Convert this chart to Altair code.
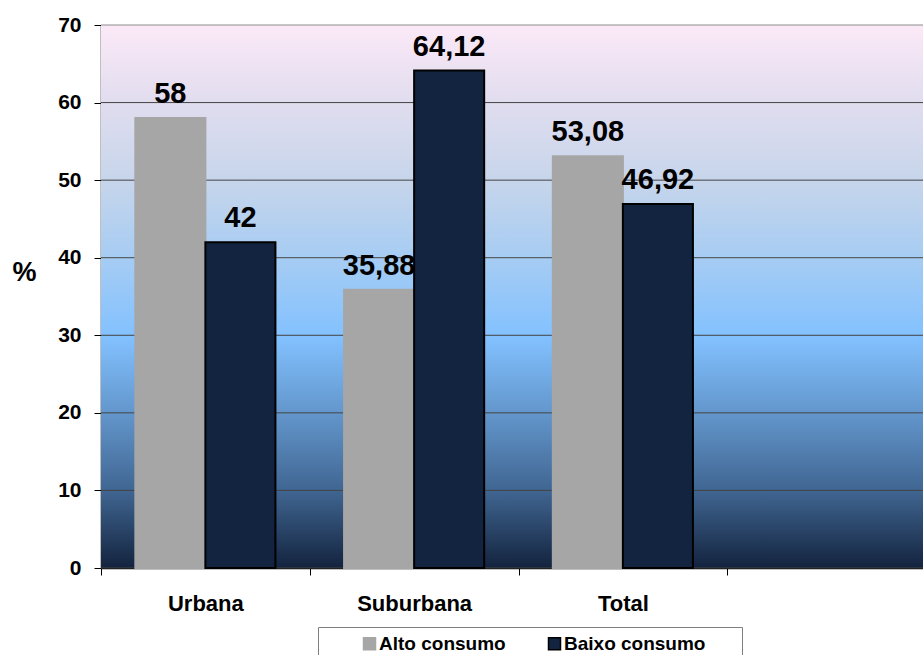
import altair as alt
import pandas as pd

# Share of high / low consumption by area (%)
areas = ["Urbana", "Suburbana", "Total"]
alto = [58, 35.88, 53.08]
baixo = [42, 64.12, 46.92]
series = ["Alto consumo", "Baixo consumo"]
y_ticks = [0, 10, 20, 30, 40, 50, 60, 70]

# one empty slot after the last category, as on the original sheet
x_domain = areas + [""]

rows = []
for a, v1, v2 in zip(areas, alto, baixo):
    for s, v in zip(series, (v1, v2)):
        rows.append({"area": a, "serie": s, "pct": v,
                     "label": f"{v:g}".replace(".", ",")})
df = pd.DataFrame(rows)

W, H = 822, 543
FONT = "Liberation Sans"

fill_colors = ["#a6a6a6", "#12243f"]
stroke_colors = ["#a6a6a6", "#000000"]

legend_cfg = alt.Legend(
    orient="none", legendX=217, legendY=602, direction="horizontal",
    title=" ", titleOrient="right", titlePadding=30, titleFontSize=10,
    fillColor="white", strokeColor="#7f7f7f", padding=7,
    symbolType="square", symbolSize=144, symbolStrokeWidth=1.5,
    symbolOffset=35, labelOffset=0, columnPadding=4,
    labelFont=FONT, labelFontSize=19, labelFontWeight="bold", labelColor="black",
)

x_enc = alt.X(
    "area:N",
    scale=alt.Scale(domain=x_domain, range=[0, 835], paddingInner=0, paddingOuter=0),
    axis=alt.Axis(
        title=None, tickBand="extent", tickSize=7, tickColor="#000000",
        domainColor="#000000", domainWidth=1.5, labelAngle=0,
        labelFont=FONT, labelFontSize=22, labelFontWeight="bold", labelColor="black",
        labelPadding=28, labelBaseline="middle",
    ),
)
xoff_enc = alt.XOffset(
    "serie:N",
    scale=alt.Scale(domain=series, paddingInner=0, paddingOuter=0.49),
)
y_scale = alt.Scale(domain=[0, 70], nice=False)
y_axis = alt.Axis(
    title="%", values=y_ticks, grid=False, tickSize=7, tickColor="#000000",
    domainColor="#000000", domainWidth=1.5,
    labelFont=FONT, labelFontSize=21, labelFontWeight="bold", labelColor="black",
    labelPadding=13,
    titleFont=FONT, titleFontSize=27, titleFontWeight="bold", titleColor="black",
    titleAngle=0, titleX=-77, titleY=247, titleAlign="center", titleBaseline="middle",
)

# gradient panel behind the plot
background = alt.Chart(alt.Data(values=[{"panel": 1}])).mark_rect(
    color=alt.LinearGradient(
        gradient="linear", x1=0, x2=0, y1=0, y2=1,
        stops=[
            alt.GradientStop(offset=0.0, color="#fce9f7"),
            alt.GradientStop(offset=0.14, color="#e1ddef"),
            alt.GradientStop(offset=0.29, color="#c6d5eb"),
            alt.GradientStop(offset=0.43, color="#a6ccf3"),
            alt.GradientStop(offset=0.575, color="#82c1ff"),
            alt.GradientStop(offset=0.715, color="#6396cc"),
            alt.GradientStop(offset=0.857, color="#406692"),
            alt.GradientStop(offset=1.0, color="#13233e"),
        ],
    )
).encode(x=alt.value(0), x2=alt.value(W), y=alt.value(0), y2=alt.value(H))

grid = alt.Chart(pd.DataFrame({"v": y_ticks})).mark_rule(strokeWidth=1).encode(
    y=alt.Y("v:Q", scale=y_scale, axis=y_axis),
    color=alt.condition(alt.datum.v == 70, alt.value("#8c8c8c"), alt.value("#444444")),
    strokeWidth=alt.condition(alt.datum.v == 70, alt.value(2), alt.value(1)),
)

bars = alt.Chart(df).mark_bar(strokeWidth=2).encode(
    x=x_enc,
    xOffset=xoff_enc,
    y=alt.Y("pct:Q", scale=y_scale, axis=y_axis),
    color=alt.Color("serie:N", scale=alt.Scale(domain=series, range=fill_colors),
                    legend=legend_cfg),
    stroke=alt.Stroke("serie:N", scale=alt.Scale(domain=series, range=stroke_colors),
                      legend=legend_cfg),
)

labels = alt.Chart(df).mark_text(
    font=FONT, fontSize=29, fontWeight="bold", color="black",
    baseline="alphabetic", dy=-15,
).encode(
    x=x_enc,
    xOffset=xoff_enc,
    y=alt.Y("pct:Q", scale=y_scale, axis=y_axis),
    text="label:N",
)

chart = alt.layer(background, grid, bars, labels).properties(
    width=W, height=H,
    autosize=alt.AutoSizeParams(type="none"),
    padding={"left": 101, "top": 25, "right": 0, "bottom": 87},
).configure_view(stroke=None).configure(background="white")

chart.save("out.html", embed_options={"renderer": "svg", "actions": False})
